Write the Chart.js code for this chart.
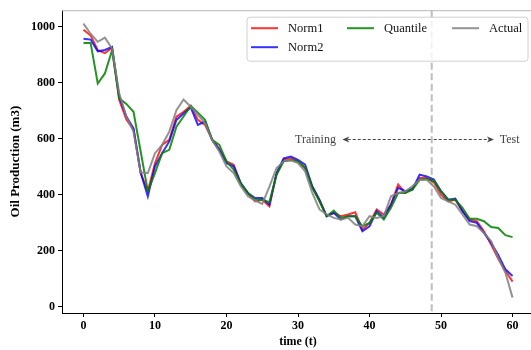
<!DOCTYPE html>
<html>
<head>
<meta charset="utf-8">
<script src="https://cdn.jsdelivr.net/npm/chart.js@4.4.1/dist/chart.umd.min.js"></script>
<style>
html,body{margin:0;padding:0;background:#fff;overflow:hidden;width:531px;height:350px;}
canvas{display:block;}
</style>
</head>
<body>
<canvas id="c" width="545" height="350" style="width:545px;height:350px"></canvas>
<script>
const TIME = [0,1,2,3,4,5,6,7,8,9,10,11,12,13,14,15,16,17,18,19,20,21,22,23,24,25,26,27,28,29,30,31,32,33,34,35,36,37,38,39,40,41,42,43,44,45,46,47,48,49,50,51,52,53,54,55,56,57,58,59,60];
const NORM1 = [990,970,917,907,926,739,669,633,478,413,513,579,597,680,697,718,668,650,597,563,520,508,440,405,377,383,359,475,527,531,520,496,428,380,324,336,324,330,338,276,300,348,330,365,437,407,425,460,460,445,401,377,383,342,312,306,270,223,172,128,90];
const NORM2 = [958,955,913,918,929,751,680,638,480,395,502,549,591,668,691,713,650,662,597,561,513,502,442,407,389,389,365,478,531,537,525,508,431,383,324,336,312,324,324,270,288,342,318,365,425,413,419,472,466,455,413,383,387,342,306,300,264,229,185,134,110];
const QUANTILE = [943,943,798,834,917,745,725,697,555,413,478,549,561,644,680,718,694,668,597,579,520,490,440,407,383,383,374,472,520,525,520,496,425,377,324,344,318,324,324,288,300,336,312,354,407,407,419,454,457,450,413,383,383,354,315,315,306,285,282,256,249];
const ACTUAL = [1012,976,947,962,923,763,680,626,480,478,549,579,626,703,741,715,686,656,595,555,502,478,431,395,380,368,430,496,520,524,514,484,407,348,330,318,312,318,294,288,324,318,324,395,407,413,431,454,454,430,389,377,365,330,294,288,264,235,175,122,33];
const X_TICKS = [0,10,20,30,40,50,60];
const Y_TICKS = [0,200,400,600,800,1000];
const SERIES_LABELS = ['Norm1','Norm2','Quantile','Actual'];
const SPLIT_T = 48.7;
const ANNOT_Y = 600;
const TRAIN_ARROW_END = 36.2;
const TEST_ARROW_END = 57.4;
const TRAIN_TEXT_T = 35.3;
const TEST_TEXT_T = 58.2;

const SERIF = '"Liberation Serif", "Times New Roman", serif';
const COLORS = ['rgba(255,0,0,0.8)','rgba(0,0,255,0.8)','rgba(0,128,0,0.85)','rgba(128,128,128,0.85)'];

function pts(vals){ return TIME.map((t,i)=>({x:t,y:vals[i]})); }

const decor = {
  id:'decor',
  beforeDatasetsDraw(chart){
    const {ctx, chartArea:a, scales:{x}} = chart;
    const px = x.getPixelForValue(SPLIT_T);
    ctx.save();
    ctx.strokeStyle = 'rgba(190,190,190,1)';
    ctx.lineWidth = 2;
    ctx.setLineDash([7,3.5]);
    ctx.beginPath(); ctx.moveTo(px,a.top); ctx.lineTo(px,a.bottom); ctx.stroke();
    ctx.restore();
  },
  afterDatasetsDraw(chart){
    const {ctx, chartArea:a, scales:{x,y}} = chart;
    ctx.save();
    // frame top & right
    ctx.strokeStyle = '#b8b8b8'; ctx.lineWidth = 1;
    ctx.beginPath();
    ctx.moveTo(a.left, a.top+0.5); ctx.lineTo(a.right, a.top+0.5);
    ctx.moveTo(a.right-0.5, a.top); ctx.lineTo(a.right-0.5, a.bottom);
    ctx.stroke();
    // annotations
    const yy = Math.round(y.getPixelForValue(ANNOT_Y))+0.5;
    const sx = x.getPixelForValue(SPLIT_T);
    function arrow(x0,x1){
      ctx.strokeStyle = '#444'; ctx.fillStyle = '#444'; ctx.lineWidth = 1;
      ctx.setLineDash([3,2]);
      const dir = Math.sign(x1-x0);
      ctx.beginPath(); ctx.moveTo(x0,yy); ctx.lineTo(x1-dir*4,yy); ctx.stroke();
      ctx.setLineDash([]);
      ctx.beginPath(); ctx.moveTo(x1,yy); ctx.lineTo(x1-dir*7,yy-3); ctx.lineTo(x1-dir*5,yy); ctx.lineTo(x1-dir*7,yy+3); ctx.closePath(); ctx.fill();
    }
    arrow(sx-1, x.getPixelForValue(TRAIN_ARROW_END));
    arrow(sx+2, x.getPixelForValue(TEST_ARROW_END));
    ctx.font = '12px ' + SERIF; ctx.fillStyle = '#444'; ctx.textBaseline = 'middle';
    ctx.textAlign = 'right'; ctx.fillText('Training', x.getPixelForValue(TRAIN_TEXT_T), yy);
    ctx.textAlign = 'left'; ctx.fillText('Test', x.getPixelForValue(TEST_TEXT_T), yy);
    // legend
    const L = a.right - 287, T = a.top + 7, W = 281, H = 44;
    ctx.beginPath();
    const r = 3;
    ctx.moveTo(L+r,T); ctx.lineTo(L+W-r,T); ctx.quadraticCurveTo(L+W,T,L+W,T+r);
    ctx.lineTo(L+W,T+H-r); ctx.quadraticCurveTo(L+W,T+H,L+W-r,T+H);
    ctx.lineTo(L+r,T+H); ctx.quadraticCurveTo(L,T+H,L,T+H-r);
    ctx.lineTo(L,T+r); ctx.quadraticCurveTo(L,T,L+r,T); ctx.closePath();
    ctx.fillStyle = 'rgba(255,255,255,0.8)'; ctx.fill();
    ctx.strokeStyle = '#d0d0d0'; ctx.lineWidth = 1; ctx.stroke();
    const slots = [[L+4, T+11],[L+4, T+30],[L+100, T+11],[L+205, T+11]];
    ctx.font = '12.5px ' + SERIF; ctx.textAlign = 'left'; ctx.textBaseline = 'middle';
    chart.data.datasets.forEach((ds,i)=>{
      const [hx,hy] = slots[i];
      ctx.strokeStyle = ds.borderColor; ctx.lineWidth = 2;
      ctx.beginPath(); ctx.moveTo(hx,hy); ctx.lineTo(hx+27,hy); ctx.stroke();
      ctx.fillStyle = '#111';
      ctx.fillText(ds.label, hx+37, hy+1);
    });
    ctx.restore();
  }
};

new Chart(document.getElementById('c'), {
  type:'line',
  data:{
    datasets:[
      {label:SERIES_LABELS[0], data:pts(NORM1), borderColor:COLORS[0], order:3},
      {label:SERIES_LABELS[1], data:pts(NORM2), borderColor:COLORS[1], order:2},
      {label:SERIES_LABELS[2], data:pts(QUANTILE), borderColor:COLORS[2], order:1},
      {label:SERIES_LABELS[3], data:pts(ACTUAL), borderColor:COLORS[3], order:0}
    ].map(d=>Object.assign(d,{borderWidth:2,pointRadius:0,tension:0,fill:false}))
  },
  options:{
    responsive:false, animation:false,
    layout:{padding:{top:8,right:11,left:0,bottom:0}},
    plugins:{legend:{display:false}, tooltip:{enabled:false}},
    scales:{
      x:{type:'linear', min:-3, max:63,
        afterBuildTicks:s=>{s.ticks = X_TICKS.map(v=>({value:v}));},
        afterFit:s=>{s.height = 37;},
        ticks:{font:{family:SERIF,size:12,weight:'bold'},color:'#000',padding:2,callback:v=>String(v),maxRotation:0},
        grid:{drawOnChartArea:false,tickLength:4,tickColor:'#000'},
        border:{color:'#000',width:1},
        title:{display:true,text:'time (t)',font:{family:SERIF,size:12,weight:'bold',lineHeight:1.2},color:'#000',padding:{top:0,bottom:1}}
      },
      y:{type:'linear', min:-22, max:1060,
        afterBuildTicks:s=>{s.ticks = Y_TICKS.map(v=>({value:v}));},
        afterFit:s=>{s.width = 62;},
        ticks:{font:{family:SERIF,size:12,weight:'bold'},color:'#000',padding:3,callback:v=>String(v)},
        grid:{drawOnChartArea:false,tickLength:4,tickColor:'#000'},
        border:{color:'#000',width:1},
        title:{display:true,text:'Oil Production (m3)',font:{family:SERIF,size:13,weight:'bold',lineHeight:1.2},color:'#000',padding:{top:8,bottom:0}}
      }
    }
  },
  plugins:[decor]
});
</script>
</body>
</html>
